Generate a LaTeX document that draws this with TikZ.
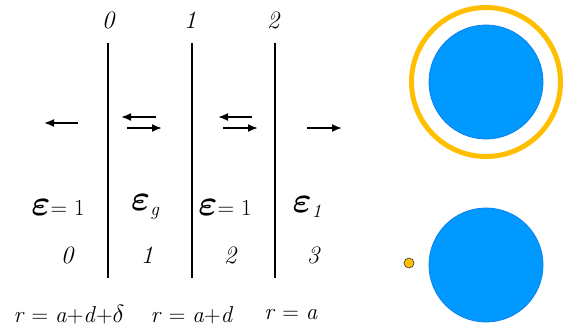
\documentclass[tikz,border=0pt]{standalone}
\usepackage{bm}
\usepackage{graphicx}
\usetikzlibrary{arrows.meta}
\definecolor{ballblue}{HTML}{0099FF}
\definecolor{balledge}{HTML}{0A80F0}
\definecolor{ringor}{HTML}{FFBF00}
\newcommand{\eps}{\scalebox{1.45}{\fontsize{24}{24}\selectfont$\bm{\varepsilon}$}}
\begin{document}
\begin{tikzpicture}[x=1pt,y=-1pt,
  wall/.style={line width=1.8pt},
  flow/.style={line width=1.8pt,-{Latex[length=10pt,width=8pt]}},
  lbl/.style={inner sep=0pt,font=\fontsize{25}{25}\selectfont\itshape},
  eq/.style={inner sep=0pt,font=\fontsize{23}{23}\selectfont},
  ball/.style={fill=ballblue,draw=balledge,line width=0.8pt}]
\useasboundingbox (0,0) rectangle (564,335);
% walls
\coordinate (w0t) at (108,43); \coordinate (w0b) at (108,278);
\coordinate (w1t) at (192,43); \coordinate (w1b) at (192,278);
\coordinate (w2t) at (275,43); \coordinate (w2b) at (275,278);
\draw[wall] (w0t) -- (w0b);
\draw[wall] (w1t) -- (w1b);
\draw[wall] (w2t) -- (w2b);
% top labels
\node[lbl] (t0) at (108,20) {0};
\node[lbl] (t1) at (190,20) {1};
\node[lbl] (t2) at (273,20) {2};
% arrows
\coordinate (a0s) at (78,123); \coordinate (a0e) at (44,123);
\coordinate (a1s) at (156,117); \coordinate (a1e) at (121,117);
\coordinate (a2s) at (127,128); \coordinate (a2e) at (162,128);
\coordinate (a3s) at (252,117); \coordinate (a3e) at (218,117);
\coordinate (a4s) at (223,128); \coordinate (a4e) at (258,128);
\coordinate (a5s) at (307,128); \coordinate (a5e) at (342,128);
\draw[flow] (a0s) -- (a0e);
\draw[flow] (a1s) -- (a1e);
\draw[flow] (a2s) -- (a2e);
\draw[flow] (a3s) -- (a3e);
\draw[flow] (a4s) -- (a4e);
\draw[flow] (a5s) -- (a5e);
% permittivities
\node[eq] (e0) at (58,207) {\eps= 1};
\node[eq] (e1) at (145,207) {\eps\raisebox{-5pt}{\fontsize{19}{19}\selectfont\itshape g}};
\node[eq] (e2) at (225,207) {\eps= 1};
\node[eq] (e3) at (307,207) {\eps\raisebox{-5pt}{\fontsize{19}{19}\selectfont\itshape 1}};
% region numbers
\node[lbl] (r0) at (67,255) {0};
\node[lbl] (r1) at (147,255) {1};
\node[lbl] (r2) at (230,255) {2};
\node[lbl] (r3) at (313,255) {3};
% radii
\node[eq] (b0) at (69,315) {\textit{r} = \textit{a}+\textit{d}+$\delta$};
\node[eq] (b1) at (192,315) {\textit{r} = \textit{a}+\textit{d}};
\node[eq] (b2) at (291,315) {\textit{r} = \textit{a}};
% spheres
\draw[ringor,line width=5pt] (486,82) circle[radius=74.5];
\draw[ball] (486,82) circle[radius=57];
\draw[ball] (486,265) circle[radius=57];
\draw[fill=ringor,draw=black!80,line width=0.6pt] (409,263) circle[radius=5];
\end{tikzpicture}
\end{document}
